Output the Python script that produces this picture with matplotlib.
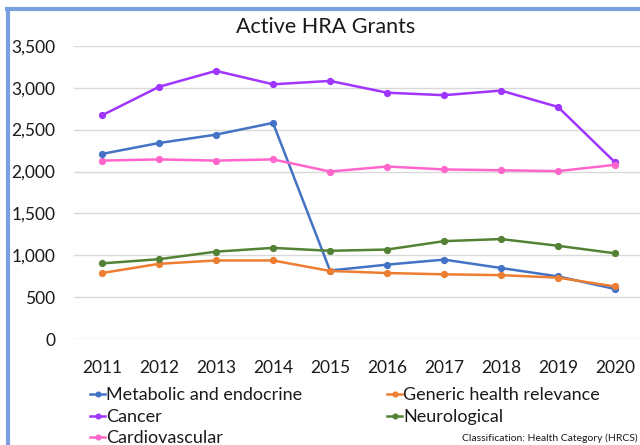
import matplotlib
matplotlib.use("Agg")
import matplotlib.pyplot as plt
from matplotlib.lines import Line2D
from matplotlib.ticker import FuncFormatter

plt.rcParams['font.family'] = ['Lato', 'DejaVu Sans']

# data
years = [2011, 2012, 2013, 2014, 2015, 2016, 2017, 2018, 2019, 2020]
metabolic = [2210, 2340, 2440, 2580, 820, 890, 950, 850, 750, 600]
generic = [790, 900, 940, 940, 815, 790, 775, 765, 735, 630]
cancer = [2670, 3010, 3200, 3040, 3080, 2940, 2910, 2965, 2770, 2110]
neuro = [905, 955, 1045, 1090, 1055, 1070, 1170, 1195, 1115, 1025]
cardio = [2130, 2145, 2130, 2145, 2000, 2060, 2025, 2015, 2005, 2080]

names = ['Metabolic and endocrine', 'Generic health relevance', 'Cancer',
         'Neurological', 'Cardiovascular']
colors = ['#4472C4', '#ED7D31', '#A035FF', '#548235', '#FF66CC']
series = [metabolic, generic, cancer, neuro, cardio]

fig = plt.figure(figsize=(6.4, 4.45), dpi=100)
ax = fig.add_axes([73.5 / 640, 0.2375, 570 / 640, 0.6598])

handles = []
for vals, c, n in zip(series, colors, names):
    h, = ax.plot(years, vals, color=c, lw=1.8, marker='o', ms=4.2, label=n)
    handles.append(h)

ax.set_xlim(2010.5, 2020.5)
ax.set_ylim(0, 3500)
ax.set_yticks(range(0, 3501, 500))
ax.set_xticks(years)
ax.yaxis.set_major_formatter(FuncFormatter(lambda v, p: f'{int(v):,}'))
ax.grid(axis='y', color='#D9D9D9', lw=1)
ax.set_axisbelow(True)
for s in ax.spines.values():
    s.set_visible(False)
ax.tick_params(axis='both', length=0, labelsize=12.5, colors='#1a1a1a')
ax.tick_params(axis='x', pad=15)
ax.tick_params(axis='y', pad=13)

fig.text(326 / 640, 1 - 27 / 445, 'Active HRA Grants', ha='center', va='center',
         fontsize=15.5, color='#1a1a1a')

# legend, two columns
order1 = [handles[0], handles[2], handles[4]]
order2 = [handles[1], handles[3]]
kw = dict(loc='upper left', frameon=False, fontsize=13, borderpad=0,
          handlelength=0.85, handletextpad=0.05, labelspacing=0.3,
          borderaxespad=0, markerscale=0.8, labelcolor='#1a1a1a')
fig.legend(order1, [h.get_label() for h in order1],
           bbox_to_anchor=(90 / 640, 1 - 387.5 / 445), **kw)
fig.legend(order2, [h.get_label() for h in order2],
           bbox_to_anchor=(387 / 640, 1 - 387.5 / 445), **kw)

fig.text(638 / 640, 1 - 438 / 445, 'Classification: Health Category (HRCS)',
         ha='right', va='center', fontsize=7.5, color='#1a1a1a')

# blue frame edges
fig.add_artist(Line2D([8 / 640, 8 / 640], [0, 1 - 9 / 445], color='#7BA0E0',
                      lw=3, transform=fig.transFigure))
fig.add_artist(Line2D([6.5 / 640, 1], [1 - 9 / 445, 1 - 9 / 445], color='#7BA0E0',
                      lw=3, transform=fig.transFigure))

fig.savefig('out.png', dpi=100)
